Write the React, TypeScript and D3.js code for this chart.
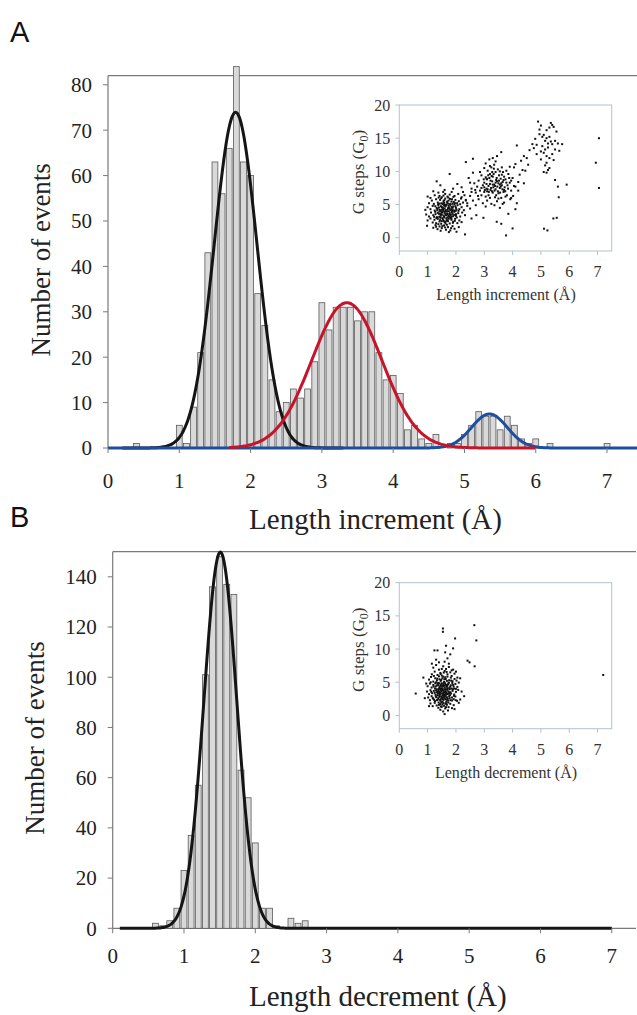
import * as d3 from "d3";

// ---- Panel A: length increment histogram (bin centres, counts) ----
const incCenters = [0.4, 1.0, 1.1, 1.2, 1.3, 1.4, 1.5, 1.6, 1.7, 1.8, 1.9, 2.0, 2.1, 2.2, 2.3, 2.4, 2.5, 2.6, 2.7, 2.8, 2.9, 3.0, 3.1, 3.2, 3.3, 3.4, 3.5, 3.6, 3.7, 3.8, 3.9, 4.0, 4.1, 4.2, 4.3, 4.4, 4.5, 4.6, 4.8, 4.9, 5.0, 5.1, 5.2, 5.3, 5.4, 5.5, 5.6, 5.7, 5.8, 5.9, 6.0, 6.2, 7.0];
const incCounts = [1, 5, 1, 9, 21, 43, 63, 56, 66, 84, 63, 60, 34, 27, 15, 8, 10, 13, 11, 13, 19, 32, 26, 31, 31, 31, 28, 30, 30, 21, 15, 16, 12, 4, 5, 2, 1, 3, 1, 1, 3, 5, 8, 7, 7, 4, 7, 5, 2, 1, 2, 1, 1];

// gaussian fits: black, red, blue
const incFitAmp = [74, 32, 7.5];
const incFitMean = [1.79, 3.35, 5.35];
const incFitSd = [0.3, 0.49, 0.25];

// ---- Panel B: length decrement histogram ----
const decCenters = [0.6, 0.7, 0.8, 0.9, 1.0, 1.1, 1.2, 1.3, 1.4, 1.5, 1.6, 1.7, 1.8, 1.9, 2.0, 2.1, 2.2, 2.3, 2.5, 2.6, 2.7];
const decCounts = [2, 1, 3, 8, 23, 37, 57, 101, 136, 148, 137, 133, 63, 52, 34, 8, 8, 1, 4, 2, 3];
const decFitAmp = [150];
const decFitMean = [1.51];
const decFitSd = [0.23];

const histXTicks = [0, 1, 2, 3, 4, 5, 6, 7];
const incYTicks = [0, 10, 20, 30, 40, 50, 60, 70, 80];
const decYTicks = [0, 20, 40, 60, 80, 100, 120, 140];
const insetXTicks = [0, 1, 2, 3, 4, 5, 6, 7];
const insetYTicks = [0, 5, 10, 15, 20];

// ---- inset scatter: [length increment, G steps] ----
const incScatter: [number, number][] = [
  [1.32, 8.5], [1.45, 7.9], [1.78, 9.6], [1.9, 7.4], [2.05, 8.1], [1.6, 7.2], [1.2, 7.0], [2.2, 7.6],
  [1.1, 6.0], [1.25, 6.4], [1.38, 6.8], [1.5, 6.1], [1.62, 6.6], [1.7, 6.2], [1.85, 6.9], [1.95, 6.3], [2.08, 6.6], [2.2, 6.1], [1.42, 6.3], [1.78, 6.5], [1.55, 6.9], [2.3, 6.4], [1.0, 6.2],
  [1.05, 5.2], [1.15, 5.6], [1.22, 5.1], [1.3, 5.8], [1.36, 5.3], [1.44, 5.7], [1.5, 5.2], [1.56, 5.5], [1.62, 5.9], [1.68, 5.3], [1.74, 5.6], [1.8, 5.1], [1.86, 5.8], [1.92, 5.4], [1.98, 5.7], [2.04, 5.2], [2.1, 5.5], [2.18, 5.9], [2.25, 5.3], [2.35, 5.6], [1.6, 5.0], [1.84, 5.45], [1.48, 5.95], [1.95, 5.05],
  [0.92, 4.2], [1.0, 4.6], [1.1, 4.3], [1.18, 4.8], [1.25, 4.1], [1.32, 4.5], [1.38, 4.9], [1.43, 4.2], [1.5, 4.6], [1.55, 4.05], [1.6, 4.4], [1.65, 4.85], [1.7, 4.2], [1.75, 4.6], [1.8, 4.95], [1.85, 4.3], [1.9, 4.7], [1.95, 4.1], [2.0, 4.5], [2.06, 4.9], [2.12, 4.3], [2.2, 4.6], [2.28, 4.15], [2.4, 4.8], [1.47, 4.75], [1.72, 4.45], [1.58, 4.9], [1.88, 4.5], [1.35, 4.35], [2.02, 4.25],
  [0.95, 3.5], [1.05, 3.2], [1.12, 3.8], [1.2, 3.4], [1.27, 3.9], [1.33, 3.1], [1.4, 3.6], [1.46, 3.3], [1.52, 3.85], [1.58, 3.2], [1.63, 3.55], [1.68, 3.95], [1.73, 3.3], [1.78, 3.7], [1.83, 3.15], [1.88, 3.6], [1.94, 3.9], [2.0, 3.3], [2.08, 3.7], [2.15, 3.2], [2.22, 3.8], [2.32, 3.4], [1.5, 3.5], [1.6, 3.75], [1.7, 3.05], [1.42, 3.95], [1.85, 3.85], [1.28, 3.55],
  [1.0, 2.6], [1.1, 2.9], [1.18, 2.3], [1.24, 2.7], [1.3, 2.2], [1.36, 2.85], [1.42, 2.45], [1.48, 2.1], [1.54, 2.75], [1.6, 2.35], [1.66, 2.9], [1.72, 2.5], [1.78, 2.15], [1.84, 2.7], [1.9, 2.4], [1.97, 2.85], [2.05, 2.2], [2.12, 2.6], [2.2, 2.35], [1.38, 2.05], [1.57, 2.55], [1.8, 2.95],
  [0.98, 1.8], [1.2, 1.5], [1.28, 1.9], [1.35, 1.3], [1.42, 1.7], [1.5, 1.45], [1.58, 1.85], [1.65, 1.2], [1.72, 1.6], [1.8, 1.1], [1.88, 1.75], [1.95, 1.35], [2.02, 0.9], [2.1, 1.6], [1.46, 1.05], [1.62, 1.55], [1.75, 0.85], [1.3, 1.65],
  [1.45, 3.0], [1.55, 4.3], [1.65, 3.4], [1.75, 4.0], [1.82, 3.45], [1.52, 2.95], [1.62, 4.7], [1.72, 5.15], [1.9, 3.25], [1.98, 4.75], [1.4, 4.55], [1.36, 3.75], [1.68, 2.65], [1.78, 4.35], [1.58, 5.25], [1.88, 5.1], [1.5, 2.5], [2.0, 3.55],
  [1.41, 3.15], [1.47, 4.05], [1.53, 5.05], [1.59, 3.05], [1.64, 4.15], [1.69, 5.45], [1.74, 2.85], [1.79, 3.45], [1.84, 4.65], [1.89, 2.25], [1.94, 3.45], [1.99, 4.05], [1.44, 2.65], [1.49, 3.75], [1.54, 4.55], [1.59, 5.65], [1.64, 2.45], [1.69, 3.65], [1.74, 4.85], [1.79, 5.85], [1.84, 2.95], [1.89, 4.15], [1.96, 5.25], [2.03, 3.05], [2.09, 4.05], [2.15, 5.05], [1.34, 4.15], [1.37, 5.05], [1.31, 2.95], [1.27, 4.75], [1.23, 3.15], [1.39, 6.05], [1.56, 6.35], [1.73, 6.05], [1.91, 6.15], [1.52, 1.75], [1.68, 1.95], [1.83, 1.45], [1.61, 3.95], [1.71, 3.55], [1.81, 4.15], [1.51, 4.25], [1.66, 4.95], [1.76, 3.15], [1.86, 3.95], [1.56, 3.35], [1.46, 3.55], [1.96, 2.55], [1.63, 2.15], [1.43, 5.15],
  [2.4, 5.2], [2.5, 6.3], [2.55, 7.4], [2.6, 5.6], [2.65, 8.2], [2.7, 6.8], [2.75, 7.7], [2.45, 9.0], [2.35, 11.4], [2.6, 11.9], [2.5, 4.4], [2.7, 4.9], [2.8, 5.8], [2.85, 7.1], [2.8, 8.6], [2.9, 9.4], [2.9, 6.4], [2.95, 7.9], [3.0, 10.5], [3.0, 8.3], [3.0, 6.9], [3.05, 11.2], [3.05, 9.1], [3.08, 7.4], [3.1, 5.6], [3.1, 8.8], [3.12, 10.1], [3.15, 7.8], [3.15, 6.4], [3.18, 11.8], [3.2, 9.6], [3.2, 8.1], [3.22, 7.2], [3.25, 5.1], [3.25, 10.6], [3.28, 8.5], [3.3, 6.8], [3.3, 9.2], [3.32, 7.6], [3.35, 11.0], [3.35, 8.0], [3.38, 6.1], [3.4, 9.9], [3.4, 7.3], [3.42, 8.7], [3.45, 5.5], [3.48, 10.3], [3.5, 8.2], [3.5, 6.7], [3.52, 9.4], [3.55, 7.5], [3.55, 4.5], [3.58, 8.9], [3.6, 6.0], [3.62, 10.6], [3.62, 7.9], [3.65, 8.4], [3.68, 6.9], [3.7, 9.2], [3.7, 5.3], [3.72, 7.6], [3.75, 8.8], [3.78, 10.1], [3.8, 6.4], [3.82, 7.9], [3.85, 9.6], [3.9, 8.3], [3.92, 5.8], [3.95, 7.1], [4.0, 9.0], [4.02, 6.3], [4.1, 7.7], [4.15, 5.2], [4.2, 8.4], [4.05, 10.6], [4.1, 11.1], [4.25, 9.5], [4.3, 11.6], [4.15, 13.9], [3.45, 12.3], [3.6, 12.9], [3.3, 12.0], [2.95, 5.2], [3.05, 4.7], [3.2, 6.0], [3.36, 4.9], [3.5, 5.9], [3.65, 5.1], [2.55, 6.9], [2.35, 5.7], [2.25, 6.9], [3.08, 8.9], [3.27, 7.0], [3.45, 8.5], [3.18, 9.0], [3.38, 7.8], [3.55, 8.0], [3.12, 7.3], [3.28, 9.9], [3.7, 7.2], [3.0, 7.6], [3.42, 6.4], [3.62, 9.5], [2.85, 9.9], [3.9, 10.7], [3.95, 6.0], [4.35, 10.2], [4.4, 12.3], [4.5, 12.0], [4.45, 10.1],
  [3.02, 7.2], [3.08, 8.1], [3.14, 9.4], [3.16, 6.9], [3.22, 8.6], [3.24, 7.5], [3.3, 8.0], [3.33, 9.6], [3.36, 7.1], [3.4, 8.3], [3.44, 9.0], [3.46, 7.7], [3.52, 8.6], [3.56, 6.8], [3.6, 8.2], [3.64, 7.3], [3.68, 8.7], [3.74, 7.0], [3.78, 8.3], [3.84, 7.4], [3.1, 7.0], [3.26, 9.3], [3.48, 7.0], [3.66, 9.9], [2.98, 8.8], [3.34, 10.4], [3.58, 7.7], [3.88, 9.0], [2.9, 7.5], [3.2, 10.8], [3.75, 6.2], [3.05, 6.2], [3.55, 10.0], [3.4, 11.5], [3.95, 8.6], [4.05, 7.8], [2.78, 6.3], [2.68, 7.2], [2.6, 9.8], [2.5, 8.3],
  [4.6, 13.2], [4.7, 14.1], [4.55, 11.0], [4.75, 13.5], [4.8, 14.9], [4.2, 7.1], [4.4, 8.2], [4.85, 14.0],
  [4.9, 17.5], [4.95, 16.3], [5.0, 16.9], [5.05, 15.2], [4.95, 15.6], [5.1, 15.5], [5.15, 14.6], [5.2, 15.0], [5.2, 16.2], [5.25, 14.2], [5.3, 16.6], [5.35, 17.3], [5.4, 17.0], [5.45, 16.7], [5.3, 15.2], [5.35, 14.5], [5.15, 13.3], [5.1, 12.8], [5.2, 12.3], [5.25, 13.6], [5.05, 13.8], [5.0, 13.0], [5.3, 12.0], [5.4, 14.1], [5.5, 14.6], [5.55, 16.0], [5.6, 14.2], [5.65, 13.1], [5.5, 13.3], [5.45, 11.7], [5.2, 11.3], [5.15, 10.9], [5.25, 10.2], [5.3, 10.5], [5.5, 8.7], [5.6, 7.7], [5.75, 14.1], [5.1, 9.9], [5.2, 9.8], [4.85, 12.6], [5.0, 11.8], [5.4, 12.6],
  [7.05, 15.0], [6.94, 11.3], [7.05, 7.5], [5.91, 8.0], [5.63, 6.1], [5.44, 2.9], [5.56, 3.0], [5.11, 1.36], [5.23, 1.1], [3.77, 0.35], [4.0, 1.4], [2.32, 0.5], [2.97, 3.0], [3.44, 2.4], [3.6, 2.1], [2.72, 3.4], [3.85, 3.6], [4.1, 4.3], [2.55, 2.9],
];

// ---- inset scatter: [length decrement, G steps] ----
const decScatter: [number, number][] = [
  [1.2, 7.2], [1.3, 7.6], [1.4, 6.9], [1.55, 7.4], [1.65, 7.0], [1.75, 7.3], [1.85, 6.8], [1.25, 6.6], [1.45, 6.4], [1.6, 6.7], [1.7, 6.2], [1.8, 6.5], [1.9, 6.9], [1.35, 6.1], [1.5, 6.0], [1.95, 6.3], [1.15, 6.2], [1.75, 7.8], [1.6, 8.1], [1.4, 8.0],
  [1.05, 5.4], [1.12, 5.8], [1.2, 5.1], [1.27, 5.6], [1.33, 5.3], [1.4, 5.9], [1.46, 5.2], [1.52, 5.6], [1.58, 5.05], [1.64, 5.5], [1.7, 5.85], [1.76, 5.3], [1.82, 5.7], [1.88, 5.15], [1.95, 5.5], [2.02, 5.25], [1.3, 5.0], [1.55, 5.85], [1.68, 5.2], [1.42, 5.45], [1.85, 5.95], [1.62, 5.75], [1.22, 5.95], [2.05, 5.7],
  [1.0, 4.4], [1.08, 4.8], [1.14, 4.2], [1.2, 4.6], [1.26, 4.05], [1.32, 4.5], [1.37, 4.9], [1.42, 4.25], [1.47, 4.65], [1.52, 4.1], [1.57, 4.45], [1.62, 4.85], [1.67, 4.3], [1.72, 4.7], [1.77, 4.15], [1.82, 4.55], [1.87, 4.9], [1.92, 4.35], [1.98, 4.75], [2.05, 4.3], [1.35, 4.7], [1.5, 4.85], [1.6, 4.2], [1.7, 4.5], [1.45, 4.45], [1.55, 4.7], [1.65, 4.6], [1.4, 4.05], [1.8, 4.35], [1.28, 4.35], [1.9, 4.6], [1.75, 4.95],
  [0.98, 3.6], [1.05, 3.2], [1.1, 3.8], [1.16, 3.35], [1.22, 3.7], [1.28, 3.1], [1.33, 3.5], [1.38, 3.9], [1.43, 3.25], [1.48, 3.65], [1.53, 3.05], [1.58, 3.45], [1.63, 3.85], [1.68, 3.2], [1.73, 3.6], [1.78, 3.95], [1.83, 3.3], [1.88, 3.7], [1.94, 3.15], [2.0, 3.55], [2.08, 3.85], [1.36, 3.3], [1.46, 3.85], [1.56, 3.7], [1.66, 3.5], [1.5, 3.3], [1.6, 3.15], [1.4, 3.6], [1.7, 3.85], [1.3, 3.75], [1.8, 3.5], [1.52, 3.9], [1.62, 3.6], [1.45, 3.45], [1.75, 3.3], [1.25, 3.4],
  [1.02, 2.7], [1.08, 2.3], [1.14, 2.9], [1.2, 2.5], [1.26, 2.15], [1.31, 2.75], [1.36, 2.4], [1.41, 2.95], [1.46, 2.2], [1.51, 2.65], [1.56, 2.35], [1.61, 2.85], [1.66, 2.1], [1.71, 2.55], [1.76, 2.9], [1.81, 2.3], [1.86, 2.7], [1.92, 2.45], [1.98, 2.85], [2.04, 2.2], [1.48, 2.5], [1.58, 2.95], [1.38, 2.6], [1.68, 2.75], [1.53, 2.05], [1.63, 2.45], [1.43, 2.8], [1.73, 2.25], [1.33, 2.3], [1.78, 2.6],
  [1.1, 1.8], [1.18, 1.4], [1.25, 1.9], [1.32, 1.5], [1.38, 1.15], [1.44, 1.7], [1.5, 1.3], [1.56, 1.85], [1.62, 1.05], [1.68, 1.6], [1.74, 1.25], [1.8, 1.75], [1.86, 1.1], [1.92, 1.55], [1.48, 1.95], [1.58, 1.45], [1.66, 1.9], [1.4, 1.6], [1.95, 0.95], [1.55, 0.6], [1.45, 0.85], [1.72, 0.75], [1.6, 0.2],
  [1.35, 3.05], [1.41, 3.45], [1.47, 4.05], [1.53, 4.45], [1.59, 3.95], [1.65, 3.35], [1.71, 4.05], [1.77, 3.45], [1.44, 2.35], [1.5, 2.85], [1.56, 3.15], [1.62, 2.55], [1.68, 4.35], [1.74, 4.85], [1.38, 4.55], [1.32, 3.95], [1.48, 5.35], [1.58, 4.95], [1.64, 3.05], [1.54, 2.45], [1.43, 3.05], [1.49, 4.35], [1.59, 5.45], [1.69, 2.35], [1.79, 3.05], [1.84, 4.05], [1.29, 2.85], [1.39, 1.95], [1.52, 1.65], [1.63, 1.75], [1.73, 1.95], [1.34, 5.55], [1.46, 6.25], [1.57, 6.45], [1.67, 6.55], [1.27, 4.85], [1.23, 2.35], [1.89, 3.95], [1.94, 4.05], [1.86, 2.25], [1.45, 3.95], [1.55, 3.35], [1.65, 3.95], [1.51, 3.75], [1.61, 4.55], [1.41, 4.85], [1.71, 3.25], [1.37, 3.65], [1.57, 2.75], [1.47, 1.35], [1.65, 1.25], [1.83, 5.25], [1.21, 4.35], [1.13, 3.55], [1.18, 2.65], [1.93, 2.95], [2.0, 4.0], [1.99, 2.3], [1.11, 5.0], [1.5, 7.0],
  [1.54, 13.1], [1.54, 12.6], [2.65, 13.6], [2.72, 11.3], [1.97, 11.6], [1.65, 10.5], [1.9, 10.1], [1.24, 9.8], [1.35, 9.8], [1.62, 9.5], [1.8, 9.2], [2.41, 8.25], [2.48, 8.0], [2.66, 7.4], [0.58, 3.3], [0.85, 5.7], [7.2, 6.1], [2.29, 2.9], [2.15, 2.4], [2.1, 4.95], [2.15, 5.6], [2.2, 3.6], [0.9, 2.6], [0.95, 4.8], [2.0, 6.6], [1.3, 8.4], [1.15, 7.8], [1.7, 8.6], [2.1, 1.9], [1.05, 1.4],
];

const SERIF = "'Liberation Serif', 'Times New Roman', serif";
const SANS = "'Liberation Sans', Arial, sans-serif";
const AXIS = "#7a7a7a";

type Fit = { amp: number; mu: number; sd: number; from: number; to: number; color: string };

function Histogram(props: {
  x: d3.ScaleLinear<number, number>;
  y: d3.ScaleLinear<number, number>;
  centers: number[];
  counts: number[];
  yTicks: number[];
  fits: Fit[];
  labelY: number;
  xLabel: string;
  xLabelY: number;
  yLabelX: number;
  axisLine: boolean;
}) {
  const { x, y, centers, counts, yTicks, fits, labelY, xLabel, xLabelY, yLabelX, axisLine } = props;
  const [x0, x1] = x.range();
  const [yb, yt] = y.range();
  const binW = 0.082;
  const line = d3
    .line<number[]>()
    .x((d) => x(d[0]))
    .y((d) => y(d[1]))
    .curve(d3.curveBasis);

  return (
    <g>
      {/* frame: left axis + top line */}
      <line x1={x0} x2={x0} y1={yt} y2={yb} stroke={AXIS} strokeWidth={1.2} />
      <line x1={x0} x2={x1} y1={yt} y2={yt} stroke={AXIS} strokeWidth={1.2} />
      {axisLine && <line x1={x0} x2={x1} y1={yb} y2={yb} stroke={AXIS} strokeWidth={1.2} />}

      {centers.map((c, i) => (
        <rect
          key={i}
          x={x(c - binW / 2)}
          y={y(counts[i])}
          width={x(c + binW / 2) - x(c - binW / 2)}
          height={y(0) - y(counts[i])}
          fill="#d9d9d9"
          stroke="#5a5a5a"
          strokeWidth={0.8}
        />
      ))}

      {fits.map((f, i) => {
        const pts = d3.range(f.from, f.to + 0.001, 0.02).map((v) => [
          v,
          f.amp * Math.exp(-((v - f.mu) ** 2) / (2 * f.sd * f.sd)),
        ]);
        return <path key={i} d={line(pts) || ""} fill="none" stroke={f.color} strokeWidth={3} />;
      })}

      {yTicks.map((t) => (
        <g key={t}>
          <line x1={x0 - 5} x2={x0} y1={y(t)} y2={y(t)} stroke={AXIS} strokeWidth={1} />
          <text x={x0 - 16} y={y(t)} dy="0.35em" textAnchor="end" fontFamily={SERIF} fontSize={21} fill="#222">
            {t}
          </text>
        </g>
      ))}
      {histXTicks.map((t) => (
        <g key={t}>
          <line x1={x(t)} x2={x(t)} y1={yb} y2={yb + 5} stroke={AXIS} strokeWidth={1} />
          <text x={x(t)} y={labelY} textAnchor="middle" fontFamily={SERIF} fontSize={21} fill="#222">
            {t}
          </text>
        </g>
      ))}
      <text x={(x0 + 637) / 2 + 3} y={xLabelY} textAnchor="middle" fontFamily={SERIF} fontSize={29} fill="#222">
        {xLabel}
      </text>
      <text
        transform={`translate(${yLabelX},${(yt + yb) / 2 - 2}) rotate(-90)`}
        textAnchor="middle"
        fontFamily={SERIF}
        fontSize={27}
        fill="#222"
      >
        Number of events
      </text>
    </g>
  );
}

function Inset(props: {
  top: number;
  points: [number, number][];
  xLabel: string;
}) {
  const { top, points, xLabel } = props;
  const x = d3.scaleLinear().domain([0, 7.5]).range([399.3, 611.7]);
  const y = d3.scaleLinear().domain([-2, 20]).range([top + 146, top]);
  const frame = "#b3c3cf";
  const [x0, x1] = x.range();
  const [yb, yt] = y.range();
  return (
    <g>
      <rect x={x0} y={yt} width={x1 - x0} height={yb - yt} fill="none" stroke={frame} strokeWidth={1} />
      {points.map((p, i) => (
        <rect key={i} x={x(p[0]) - 1} y={y(p[1]) - 1} width={2} height={2} fill="#111" />
      ))}
      {insetYTicks.map((t) => (
        <g key={t}>
          <line x1={x0 - 4} x2={x0} y1={y(t)} y2={y(t)} stroke={frame} />
          <text x={x0 - 9} y={y(t)} dy="0.35em" textAnchor="end" fontFamily={SERIF} fontSize={16} fill="#333">
            {t}
          </text>
        </g>
      ))}
      {insetXTicks.map((t) => (
        <g key={t}>
          <line x1={x(t)} x2={x(t)} y1={yb} y2={yb + 4} stroke={frame} />
          <text x={x(t)} y={yb + 26} textAnchor="middle" fontFamily={SERIF} fontSize={16} fill="#333">
            {t}
          </text>
        </g>
      ))}
      <text x={506} y={yb + 49} textAnchor="middle" fontFamily={SERIF} fontSize={16} fill="#333">
        {xLabel}
      </text>
      <text
        transform={`translate(364,${(yt + yb) / 2 - 6}) rotate(-90)`}
        textAnchor="middle"
        fontFamily={SERIF}
        fontSize={17}
        fill="#333"
      >
        G steps (G
        <tspan fontSize={12} dy={4}>
          0
        </tspan>
        <tspan dy={-4}>)</tspan>
      </text>
    </g>
  );
}

export default function App() {
  const xA = d3.scaleLinear().domain([0, 7.42]).range([108, 637]);
  const yA = d3.scaleLinear().domain([0, 82]).range([448, 75.7]);
  const xB = d3.scaleLinear().domain([0, 7.34]).range([112.7, 636]);
  const yB = d3.scaleLinear().domain([0, 150]).range([928.3, 551.7]);

  const incColors = ["#151515", "#c8142b", "#1d4f9e"];
  const fitsA: Fit[] = [
    { amp: incFitAmp[0], mu: incFitMean[0], sd: incFitSd[0], from: 0.2, to: 3.3, color: incColors[0] },
    { amp: incFitAmp[2], mu: incFitMean[2], sd: incFitSd[2], from: 0, to: 7.42, color: incColors[2] },
    { amp: incFitAmp[1], mu: incFitMean[1], sd: incFitSd[1], from: 1.7, to: 6.0, color: incColors[1] },
  ];
  const fitsB: Fit[] = [
    { amp: decFitAmp[0], mu: decFitMean[0], sd: decFitSd[0], from: 0.1, to: 7.0, color: "#151515" },
  ];

  return (
    <div style={{ position: "absolute", left: 0, top: 0 }}>
      <svg width={637} height={1015} style={{ display: "block", background: "#fff" }}>
        <text x={10} y={42} fontFamily={SANS} fontSize={29} fill="#111">
          A
        </text>
        <text x={10} y={527} fontFamily={SANS} fontSize={29} fill="#111">
          B
        </text>
        <Histogram
          x={xA}
          y={yA}
          centers={incCenters}
          counts={incCounts}
          yTicks={incYTicks}
          fits={fitsA}
          labelY={488}
          xLabel="Length increment (Å)"
          xLabelY={529}
          yLabelX={50}
          axisLine={false}
        />
        <Inset top={105} points={incScatter} xLabel="Length increment (Å)" />
        <Histogram
          x={xB}
          y={yB}
          centers={decCenters}
          counts={decCounts}
          yTicks={decYTicks}
          fits={fitsB}
          labelY={963}
          xLabel="Length decrement (Å)"
          xLabelY={1006}
          yLabelX={44}
          axisLine={true}
        />
        <Inset top={582.7} points={decScatter} xLabel="Length decrement (Å)" />
      </svg>
    </div>
  );
}
